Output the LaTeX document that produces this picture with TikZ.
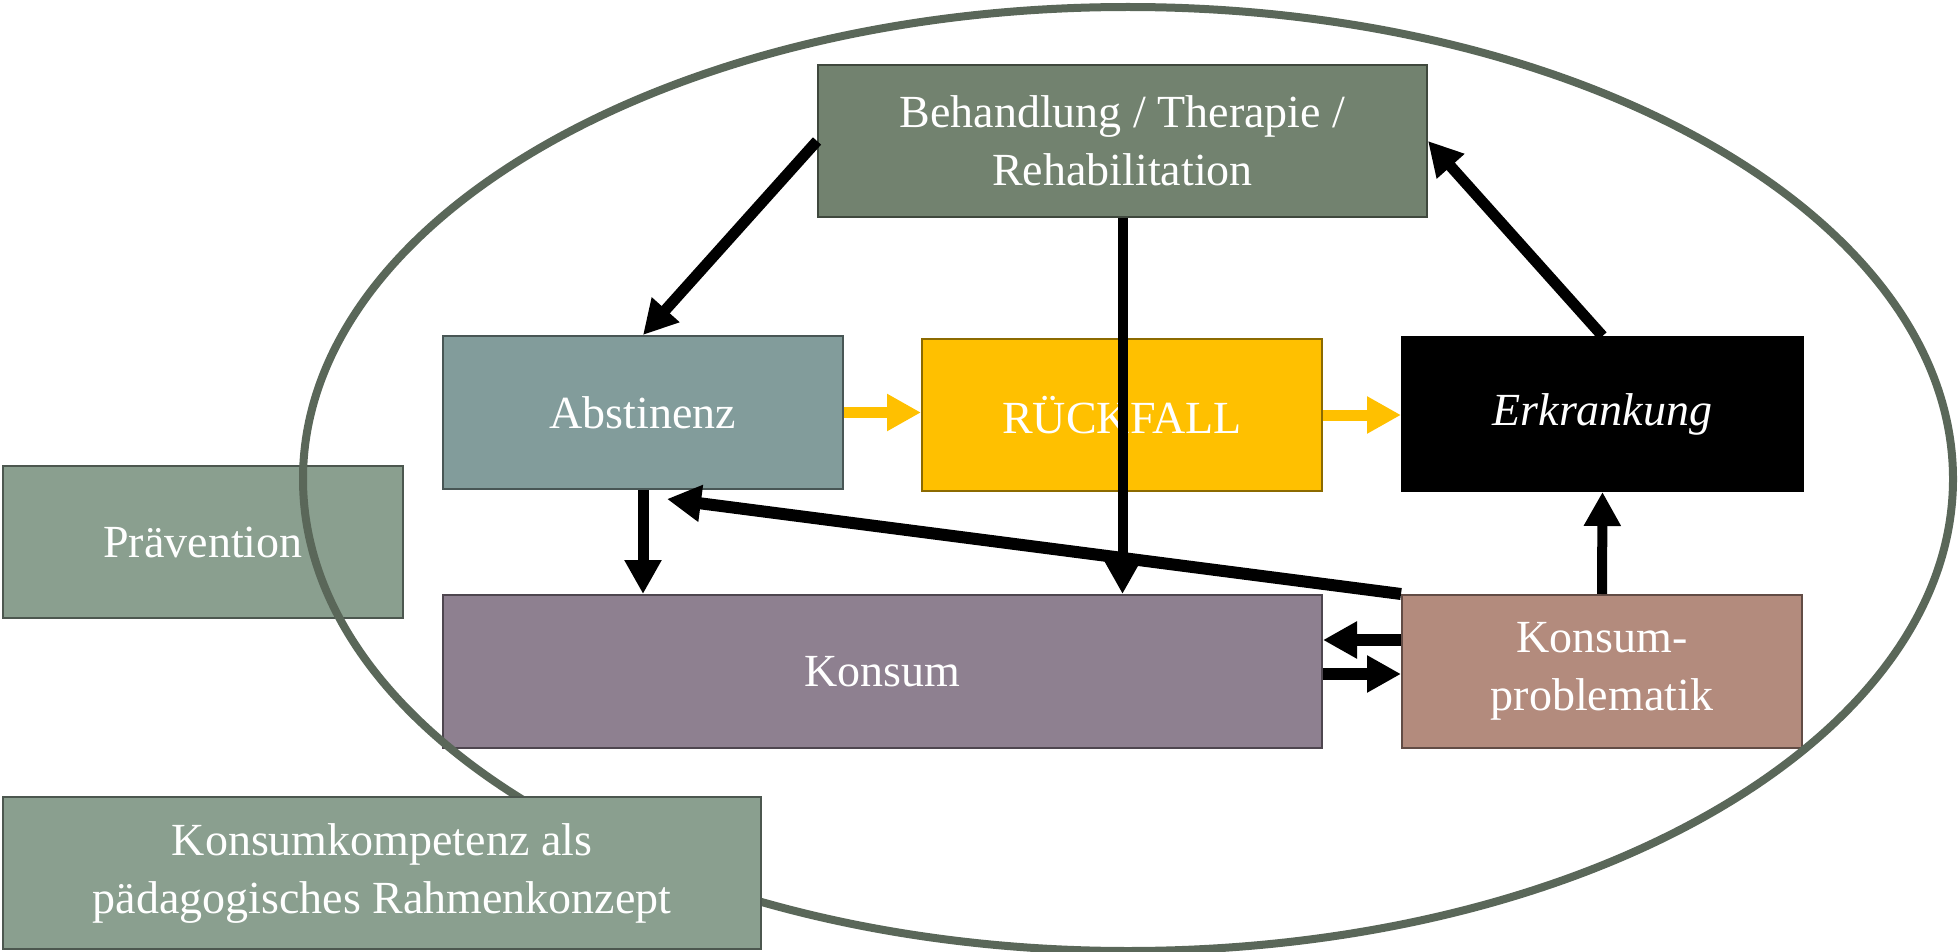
\documentclass[tikz,border=0pt]{standalone}
\usepackage{fontspec}
\setmainfont{Liberation Serif}
\usetikzlibrary{arrows.meta,calc}
\definecolor{behc}{HTML}{72826F}
\definecolor{absc}{HTML}{829C9B}
\definecolor{rfc}{HTML}{FFC000}
\definecolor{praec}{HTML}{8A9F8F}
\definecolor{konsc}{HTML}{8E8090}
\definecolor{kpc}{HTML}{B38B7D}
\definecolor{ellc}{HTML}{5A6759}
\begin{document}
\begin{tikzpicture}[x=0.5pt,y=-0.5pt,
  box/.style={draw=#1!55!black, fill=#1, line width=1pt, text=white, align=center,
    inner sep=0pt, font=\fontsize{23pt}{29pt}\selectfont},
  arr/.style={line width=5.5pt, -{Triangle[length=17pt,width=17.5pt]}},
  yarr/.style={arr, color=rfc}]
\useasboundingbox (0,0) rectangle (1960,952);
\node[box=praec, minimum width=200pt, minimum height=76pt] (prae) at (203,542) {Prävention};
\node[box=behc, minimum width=304.5pt, minimum height=76pt] (beh) at (1122.5,141) {Behandlung / Therapie /\\Rehabilitation};
\node[box=absc, minimum width=200pt, minimum height=76.5pt] (abs) at (643,412.5) {Abstinenz};
\node[box=rfc, minimum width=200pt, minimum height=76pt] (rf) at (1122,415) {RÜCKFALL};
\node[box=black, minimum width=200.5pt, minimum height=77pt] (erk) at (1602.5,414) {\itshape Erkrankung};
\node[box=konsc, minimum width=439.5pt, minimum height=76.5pt] (kons) at (882.5,671.5) {Konsum};
\node[box=kpc, minimum width=200pt, minimum height=76.5pt] (kp) at (1602,671.5) {Konsum-\\problematik};
\draw[ellc, line width=4pt] (1128,479) ellipse [x radius=412.5pt, y radius=236pt];
% arrows
\draw[yarr] (abs.east) -- (abs.east -| rf.west);
\draw[yarr] (rf.east) -- (rf.east -| erk.west);
\draw[arr] (beh.west) -- (abs.north);
\draw[arr] (erk.north) -- (beh.east);
\draw[arr, line width=5pt] (beh.south) -- (beh.south |- kons.north);
\draw[arr] (abs.south) -- (abs.south |- kons.north);
\draw[arr, line width=6pt] (kp.north west) -- ($(abs.south)+(24,9)$);
\draw[arr, line width=5pt] (kp.north) -- (erk.south);
\draw[arr, line width=6pt] ([yshift=15.75pt]kp.west) -- ([yshift=15.75pt]kp.west -| kons.east);
\draw[arr, line width=6pt] ([yshift=-1.25pt]kons.east) -- ([yshift=-1.25pt]kons.east -| kp.west);
\node[box=praec, minimum width=379pt, minimum height=76pt] (kk) at (382,873) {Konsumkompetenz als\\pädagogisches Rahmenkonzept};
\end{tikzpicture}
\end{document}
